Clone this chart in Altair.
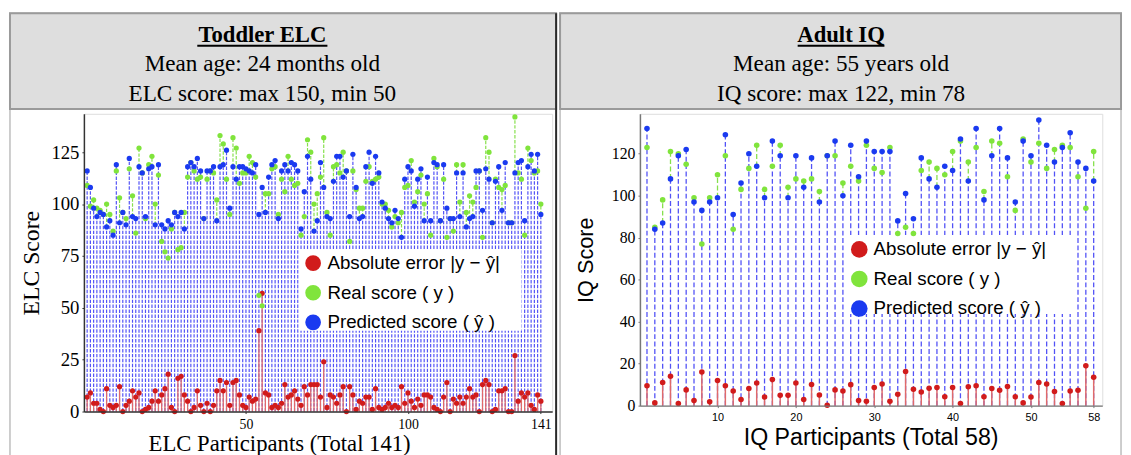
import altair as alt
import pandas as pd

# ---------------- data ----------------
elc_pred = [116,108,98,94,96,95,89,92,85,119, 91,96,90,122,94,93,118,115,94,117,
            118,90,119,90,88,92,90,96,94,96, 88,118,120,118,122,116,93,116,116,118,
            92,118,119,126,98,118,112,118,118,117, 116,115,119,95,108,96,113,119,121,93,
            116,119,116,120,119,116,88,106,123,112, 87,92,120,108,94,93,111,123,123,113,
            116,94,124,108,93,94,118,125,110,123, 115,101,98,93,91,97,93,84,112,118,
            116,99,112,117,92,113,92,120,119,92, 119,98,93,93,115,94,115,89,93,94,
            116,116,97,117,112,91,111,118,97,120, 91,91,115,120,121,92,118,124,116,124,
            95]
elc_real = [109,99,102,98,97,95,100,95,87,116, 103,96,93,117,104,86,127,115,93,119,
            123,100,114,82,77,74,88,96,78,79, 96,113,120,116,112,113,93,112,116,115,
            102,133,129,112,95,132,127,110,115,115, 123,120,113,56,51,105,105,117,118,95,
            112,106,123,112,109,110,85,94,131,125, 100,105,113,132,96,85,118,119,115,125,
            116,82,116,107,98,98,111,118,111,112, 113,100,100,97,89,94,91,96,108,109,
            121,101,106,114,100,105,85,122,118,92, 112,84,93,87,119,101,119,96,104,101,
            108,116,84,132,125,91,112,108,107,109, 91,91,142,115,112,85,127,121,115,116,
            100]
elc_err = [7,9,4,4,1,0,11,3,2,3, 12,0,3,5,10,7,9,0,1,2,
           5,10,5,8,11,18,2,0,16,17, 8,5,0,2,10,3,0,4,0,3,
           10,15,10,14,3,14,15,8,3,2, 7,5,6,39,57,9,8,2,3,2,
           4,13,7,8,10,6,3,12,8,13, 13,13,7,24,2,8,7,4,8,12,
           0,12,8,1,5,4,7,7,1,11, 2,1,2,4,2,3,2,12,4,9,
           5,2,6,3,8,8,7,2,1,0, 7,14,0,6,4,7,4,7,11,7,
           8,0,13,15,13,0,1,10,10,11, 0,0,27,5,9,7,9,3,1,8,
           5]

iq_pred = [132,84,87,108,119,122,97,93,97,99, 129,91,106,120,114,99,126,119,99,119,
           104,118,97,119,126,100,124,109,126,121, 121,121,88,101,89,118,108,104,114,112,
           127,107,132,98,119,132,118,97,126,119, 136,124,116,123,130,116,113,107]
iq_real = [123,85,98,121,120,115,99,77,99,110, 119,84,103,113,124,103,114,124,104,108,
           107,108,102,119,119,106,114,107,124,113, 111,123,82,85,82,112,116,113,110,121,
           126,116,123,102,126,125,109,93,127,116, 125,113,122,124,123,109,94,121]
iq_err = [9.5,1.3,11,14,1,7.5,2.4,16,1.8,12, 9.5,7,2.9,8.2,10.8,4.1,12.4,4.9,4.9,10.8,
          2.9,10.1,5.1,0.2,7.5,7,10,2.4,2.1,8.6, 10.3,2.1,5.4,16.3,7.8,6.5,8.3,8.6,4.2,8.6,
          1,9,9.5,4.2,8.2,7.3,9.1,4.2,1.3,4.1, 11,10.3,6.7,1,7,7.3,19,13.5]

series_names = ["Absolute error |y \u2212 \u0177|", "Real score ( y )", "Predicted score ( \u0177 )"]
series_colors = ["#d11b1b", "#80e43c", "#1a3af0"]

elc_x_ticks = [50, 100, 141]
elc_y_ticks = [0, 25, 50, 75, 100, 125]
iq_x_ticks = [10, 20, 30, 40, 50, 58]
iq_y_ticks = [0, 20, 40, 60, 80, 100, 120]

left_header = ["Toddler ELC", "Mean age: 24 months old", "ELC score: max 150, min 50"]
right_header = ["Adult IQ", "Mean age: 55 years old", "IQ score: max 122, min 78"]

SERIF = "Liberation Serif"
SANS = "Liberation Sans"
one = pd.DataFrame({"k": [0]})


def deco_rect(x1, x2, y1, y2, **kw):
    return alt.Chart(one).mark_rect(**kw).encode(
        x=alt.value(x1), x2=alt.value(x2), y=alt.value(y1), y2=alt.value(y2))


def deco_rule(x1, x2, y1, y2, **kw):
    return alt.Chart(one).mark_rule(**kw).encode(
        x=alt.value(x1), x2=alt.value(x2), y=alt.value(y1), y2=alt.value(y2))


def deco_text(txt, x, y, **kw):
    return alt.Chart(one).mark_text(text=txt, align="center", baseline="alphabetic",
                                    color="black", **kw).encode(x=alt.value(x), y=alt.value(y))


def panel(pred, real, err, c):
    n = len(pred)
    ids = list(range(1, n + 1))
    names = series_names
    stems = pd.DataFrame({"p": ids, "pred": pred, "real": real, "err": err, "z": [0] * n})
    pts = pd.DataFrame({
        "p": ids * 3,
        "v": list(err) + list(real) + list(pred),
        "s": [names[0]] * n + [names[1]] * n + [names[2]] * n,
        "o": [0] * n + [1] * n + [2] * n,
    })
    xax = alt.Axis(values=c["xticks"], labelFont=c["xlabfont"], labelFontSize=c["xlabsize"],
                   labelColor="black", labelFlush=False, labelOverlap=False, labelPadding=c["xlabpad"],
                   tickSize=2, tickColor=c["axcolor"], domainColor=c["axcolor"], domainWidth=1.5,
                   grid=False, title=c["xtitle"], titleFont=c["xtitlefont"], titleFontSize=c["xtitlesize"],
                   titleFontWeight="normal", titleColor="black", titleX=c["xtitleX"], titleY=c["xtitleY"],
                   titleBaseline="alphabetic", titleAlign="center", zindex=1)
    yax = alt.Axis(values=c["yticks"], labelFont=SERIF, labelFontSize=c["ylabsize"], labelColor="black",
                   labelPadding=3, tickSize=2, tickColor=c["axcolor"], domainColor=c["axcolor"],
                   domainWidth=1.5, grid=False, title=c["ytitle"], titleFont=c["ytitlefont"],
                   titleFontSize=c["ytitlesize"], titleFontWeight="normal", titleColor="black",
                   titlePadding=c["ytitlepad"], zindex=1)
    xs = alt.Scale(domain=c["xdom"], nice=False, zero=False)
    ys = alt.Scale(domain=c["ydom"], nice=False)
    X = alt.X("p:Q", scale=xs, axis=xax)
    Y = lambda f: alt.Y(f, type="quantitative", scale=ys, axis=yax)

    green = alt.Chart(stems).transform_filter("datum.real > datum.pred").mark_rule(
        color="#86e04c", strokeWidth=c["sw"], strokeDash=c["dash"]).encode(
        x=X, y=Y("pred"), y2="real")
    blue = alt.Chart(stems).mark_rule(color="#5252f6", strokeWidth=c["sw"], strokeDash=c["dash"]).encode(
        x=X, y=Y("z"), y2="pred")
    red = alt.Chart(stems).mark_rule(color="#e06a6a", strokeWidth=c["rsw"]).encode(
        x=X, y=Y("z"), y2="err")
    dots = alt.Chart(pts).mark_circle(size=c["dot"], opacity=1).encode(
        x=X, y=Y("v"),
        color=alt.Color("s:N", sort=names,
                        scale=alt.Scale(domain=names, range=series_colors),
                        legend=alt.Legend(title=None, orient="none", legendX=c["legX"], legendY=c["legY"],
                                          symbolType="circle", symbolSize=c["legsym"], symbolStrokeWidth=0,
                                          labelFont=SANS, labelFontSize=19, labelColor="black",
                                          padding=5, rowPadding=10, labelOffset=5,
                                          labelLimit=400)),
        order=alt.Order("o:Q"),
    )

    hx1, hx2 = c["hx"]
    cx = c["hcx"]
    head = c["head"]
    lx1, lx2, ly1, ly2 = c["legbox"]
    layers = [
        deco_rect(hx1, hx2, -102, 360, fillOpacity=0, stroke="#bdbdbd", strokeWidth=1.5),
        deco_rect(hx1, hx2, -102, -5, fill="#dedede", stroke="#9a9a9a", strokeWidth=2),
        deco_text(head[0], cx, -73, font=SERIF, fontSize=23, fontWeight="bold"),
        deco_rule(cx - c["ulw"] / 2, cx + c["ulw"] / 2, -69, -69, color="black", strokeWidth=2),
        deco_text(head[1], cx, -43, font=SERIF, fontSize=23.5),
        deco_text(head[2], cx, -13, font=SERIF, fontSize=23.5),
    ]
    if c.get("sep") is not None:
        layers.append(deco_rule(c["sep"], c["sep"], -102, 360, color="#2a2a2a", strokeWidth=2))
    layers += [green, blue, red, deco_rect(lx1, lx2, ly1, ly2, fill="white"), dots]
    return alt.layer(*layers).properties(width=c["w"], height=c["h"])


left = panel(elc_pred, elc_real, elc_err, dict(
    w=475, h=302, xdom=[0, 144.5], ydom=[0, 143.5], xticks=elc_x_ticks, yticks=elc_y_ticks,
    xlabfont=SERIF, xlabsize=14, xlabpad=4, axcolor="#333333",
    xtitle="ELC Participants (Total 141)", xtitlefont=SERIF, xtitlesize=23, xtitleX=198, xtitleY=40,
    ylabsize=19, ytitle="ELC Score", ytitlefont=SERIF, ytitlesize=24, ytitlepad=8,
    sw=1.2, dash=[3.5, 1.5], rsw=1.3, dot=28, legX=218, legY=137, legsym=254,
    legbox=(218, 444, 137, 220),
    hx=(-75, 479), hcx=181, ulw=132, head=left_header, sep=479))

right = panel(iq_pred, iq_real, iq_err, dict(
    w=469, h=296, xdom=[0.1, 59.1], ydom=[0, 139], xticks=iq_x_ticks, yticks=iq_y_ticks,
    xlabfont=SANS, xlabsize=11, xlabpad=4, axcolor="#777777",
    xtitle="IQ Participants (Total 58)", xtitlefont=SANS, xtitlesize=23.5, xtitleX=234, xtitleY=39,
    ylabsize=16, ytitle="IQ Score", ytitlefont=SANS, ytitlesize=22, ytitlepad=14,
    sw=1.3, dash=[5, 2.5], rsw=1.5, dot=32, legX=208, legY=123, legsym=283,
    legbox=(208, 443, 123, 203),
    hx=(-81, 488), hcx=204, ulw=88, head=right_header, sep=None))

chart = alt.hconcat(left, right, spacing=0).resolve_scale(color="independent").properties(
    padding=0).configure_view(stroke=None).configure(background="white")

chart.save("out.html", embed_options={"renderer": "svg", "actions": False})
